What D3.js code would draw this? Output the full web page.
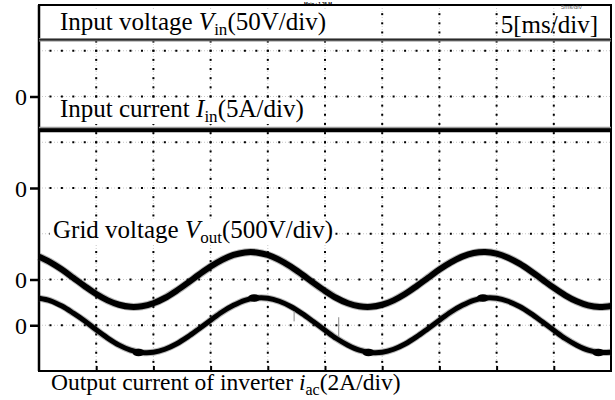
<!DOCTYPE html>
<html>
<head>
<meta charset="utf-8">
<script src="https://cdn.jsdelivr.net/npm/d3@7"></script>
<style>
  body { margin: 0; background: #fff; }
  svg { display: block; font-family: "Liberation Serif", "Times New Roman", serif; }
</style>
</head>
<body>
<svg width="615" height="400"></svg>
<script>
// sample times (ms), 5 ms/div, 10 div on screen
const timeMs = [0,1,2,3,4,5,6,7,8,9,10,11,12,13,14,15,16,17,18,19,20,21,22,23,24,25,
                26,27,28,29,30,31,32,33,34,35,36,37,38,39,40,41,42,43,44,45,46,47,48,49,50];

// grid voltage Vout (V)
const gridVoltage = [250,188,109,18,-73,-158,-228,-276,-299,-293,-260,-202,-125,-37,55,142,215,268,296,296,
                     268,215,142,55,-37,-125,-202,-260,-293,-299,-276,-228,-158,-73,18,109,188,250,289,300,
                     283,239,173,91,0,-91,-173,-239,-283,-300,-289];

// output current of inverter iac (A)
const outputCurrent = [1.18,1.07,0.84,0.53,0.19,-0.2,-0.56,-0.87,-1.09,-1.19,-1.18,-1.05,-0.82,-0.51,-0.15,0.22,0.58,0.87,1.09,1.19,
                       1.18,1.05,0.82,0.51,0.15,-0.22,-0.58,-0.87,-1.09,-1.19,-1.18,-1.05,-0.82,-0.51,-0.15,0.22,0.58,0.87,1.09,1.19,
                       1.18,1.05,0.82,0.51,0.15,-0.22,-0.58,-0.87,-1.09,-1.19,-1.18];

// dc inputs (flat)
const inputVoltage = 62;   // V
const inputCurrent = 6.3;  // A

// dark blobs on the current trace and two glitch spikes
const blobTimes = [8.7, 18.8, 28.8, 38.8, 48.9];
const blobValues = [-1.19, 1.19, -1.19, 1.19, -1.19];
const spikeTimes = [22.3, 26.2];
const spikeTop = [0.61, 0.35];
const spikeBottom = [0.17, -0.52];

// channel zero levels (div from bottom) and scale per div
const chOffsets = [6, 4, 2, 1];
const chScale = {vin: 50, iin: 5, vout: 500, iac: 2};

let svg = d3.select("svg");
let x = d3.scaleLinear().domain([0, 50]).range([39, 611]);
let y = d3.scaleLinear().domain([0, 8]).range([371, 5]);

// grid: light dotted lines + black dots every 0.2 div
let grid = svg.append("g");
d3.range(1, 10).forEach(function(d) {
  let gx = x(d * 5);
  grid.append("line").attr("x1", gx).attr("x2", gx).attr("y1", y(8)).attr("y2", y(0))
      .attr("stroke", "#c8c8c8").attr("stroke-width", 1).attr("stroke-dasharray", "1,2");
  grid.selectAll(null).data(d3.range(1, 40)).enter().append("rect")
      .attr("x", gx - 1).attr("y", function(k) { return y(k * 0.2) - 1; })
      .attr("width", 2).attr("height", 2).attr("fill", "#000");
});
d3.range(1, 8).forEach(function(d) {
  let gy = y(d);
  grid.append("line").attr("x1", x(0)).attr("x2", x(50)).attr("y1", gy).attr("y2", gy)
      .attr("stroke", "#c8c8c8").attr("stroke-width", 1).attr("stroke-dasharray", "1,2");
  grid.selectAll(null).data(d3.range(1, 50)).enter().append("rect")
      .attr("x", function(k) { return x(k) - 1; }).attr("y", gy - 1)
      .attr("width", 2).attr("height", 2).attr("fill", "#000");
});

// frame
svg.append("rect").attr("x", x(0)).attr("y", y(8)).attr("width", x(50) - x(0)).attr("height", y(0) - y(8))
   .attr("fill", "none").attr("stroke", "#000").attr("stroke-width", 2);
svg.append("line").attr("x1", x(0)).attr("x2", x(0)).attr("y1", y(8)).attr("y2", y(0))
   .attr("stroke", "#000").attr("stroke-width", 2.5);

// bottom ticks
svg.append("g").attr("transform", "translate(0," + y(0) + ")")
   .call(d3.axisBottom(x).tickValues(d3.range(5, 50, 5)).tickSize(-5).tickFormat(""))
   .call(function(g) { g.select(".domain").remove(); g.selectAll("line").attr("stroke-width", 2); });

// channel zero markers
svg.append("g").attr("transform", "translate(" + (x(0) + 1) + ",0)")
   .call(d3.axisLeft(y).tickValues(chOffsets).tickSize(10).tickPadding(3).tickFormat(function() { return "0"; }))
   .call(function(g) {
     g.select(".domain").remove();
     g.selectAll("line").attr("stroke-width", 2.5);
     g.selectAll("text").attr("font-size", 24).attr("font-family", "Liberation Serif, serif").attr("dy", "0.34em");
   });

// labels with white backing
function label(tx, ty, fs, parts) {
  let g = svg.append("g");
  let t = g.append("text").attr("x", tx).attr("y", ty).attr("font-size", fs).attr("fill", "#000");
  parts.forEach(function(p) {
    let s = t.append("tspan").text(p[0]);
    if (p[1] === "i") s.attr("font-style", "italic");
    if (p[1] === "sub") s.attr("font-size", fs * 0.68).attr("dy", 5);
    if (p[1] === "after") s.attr("dy", -5);
  });
  let b = t.node().getBBox();
  g.insert("rect", "text").attr("x", b.x - 3).attr("y", b.y + 3).attr("width", b.width + 5).attr("height", b.height - 5)
   .attr("fill", "#fff");
}

// traces
let ch = function(off, sc) { return function(v) { return y(off + v / sc); }; };

// input voltage
let yVin = ch(chOffsets[0], chScale.vin)(inputVoltage);
svg.append("line").attr("x1", x(0)).attr("x2", x(50)).attr("y1", yVin).attr("y2", yVin)
   .attr("stroke", "#8a8a8a").attr("stroke-width", 3.5);
svg.append("line").attr("x1", x(0)).attr("x2", x(50)).attr("y1", yVin).attr("y2", yVin)
   .attr("stroke", "#2a2a2a").attr("stroke-width", 1.5);

// input current
let yIin = ch(chOffsets[1], chScale.iin)(inputCurrent);
svg.append("line").attr("x1", x(0)).attr("x2", x(50)).attr("y1", yIin - 1).attr("y2", yIin - 1)
   .attr("stroke", "#999").attr("stroke-width", 5);
svg.append("line").attr("x1", x(0)).attr("x2", x(50)).attr("y1", yIin).attr("y2", yIin)
   .attr("stroke", "#000").attr("stroke-width", 4);

let yVout = ch(chOffsets[2], chScale.vout);
let yIac = ch(chOffsets[3], chScale.iac);

let voutLine = d3.line().x(function(d, i) { return x(timeMs[i]); }).y(function(d) { return yVout(d); })
  .curve(d3.curveCatmullRom);
let iacLine = d3.line().x(function(d, i) { return x(timeMs[i]); }).y(function(d) { return yIac(d); })
  .curve(d3.curveCatmullRom);

svg.append("path").datum(gridVoltage).attr("d", voutLine).attr("fill", "none")
   .attr("stroke", "#333").attr("stroke-width", 8).attr("stroke-opacity", 0.35);
svg.append("path").datum(gridVoltage).attr("d", voutLine).attr("fill", "none")
   .attr("stroke", "#000").attr("stroke-width", 6);

svg.append("path").datum(outputCurrent).attr("d", iacLine).attr("fill", "none")
   .attr("stroke", "#333").attr("stroke-width", 7).attr("stroke-opacity", 0.35);
svg.append("path").datum(outputCurrent).attr("d", iacLine).attr("fill", "none")
   .attr("stroke", "#000").attr("stroke-width", 5);

svg.selectAll(".blob").data(blobTimes).enter().append("ellipse").attr("class", "blob")
   .attr("cx", function(d) { return x(d); }).attr("cy", function(d, i) { return yIac(blobValues[i]); })
   .attr("rx", 6).attr("ry", 3.8).attr("fill", "#000");

svg.selectAll(".spike").data(spikeTimes).enter().append("line").attr("class", "spike")
   .attr("x1", function(d) { return x(d); }).attr("x2", function(d) { return x(d); })
   .attr("y1", function(d, i) { return yIac(spikeTop[i]); }).attr("y2", function(d, i) { return yIac(spikeBottom[i]); })
   .attr("stroke", "#888").attr("stroke-width", 1);

// text labels
label(60, 30, 25, [["Input voltage "], ["V", "i"], ["in", "sub"], ["(50V/div)", "after"]]);
label(60, 117, 25, [["Input current "], ["I", "i"], ["in", "sub"], ["(5A/div)", "after"]]);
label(53, 238, 25, [["Grid voltage "], ["V", "i"], ["out", "sub"], ["(500V/div)", "after"]]);
label(51, 390, 23.5, [["Output current of inverter "], ["i", "i"], ["ac", "sub"], ["(2A/div)", "after"]]);

svg.append("text").attr("x", 598).attr("y", 33).attr("text-anchor", "end").attr("font-size", 25).text("5[ms/div]");
svg.append("text").attr("x", 561).attr("y", 8.5).attr("font-size", 6).attr("fill", "#555")
   .attr("font-family", "Liberation Sans, sans-serif").text("5ms/div");
svg.append("text").attr("x", 304).attr("y", 6.3).attr("font-size", 4.5).attr("font-weight", "bold")
   .attr("font-family", "Liberation Sans, sans-serif").text("Main : 1.25 M");
</script>
</body>
</html>
